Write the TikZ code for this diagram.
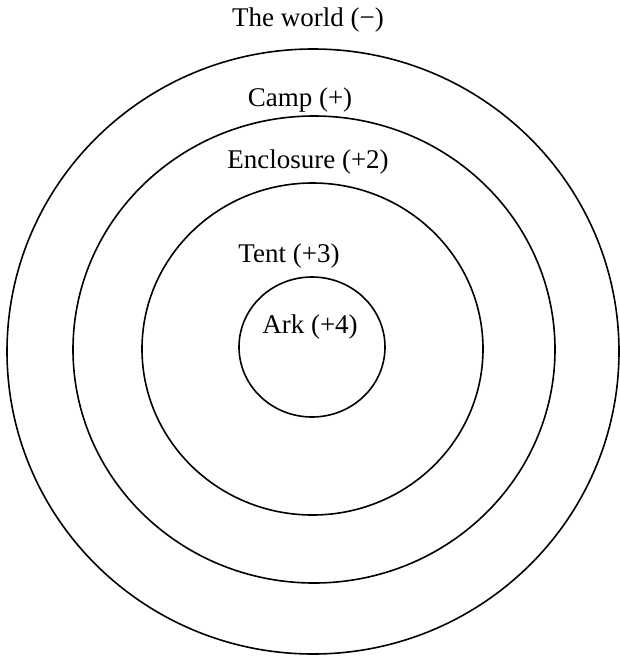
\documentclass[tikz,border=0pt]{standalone}
\usepackage{fontspec}
\setmainfont{Liberation Serif}
\usetikzlibrary{shapes.geometric}
\begin{document}
\begin{tikzpicture}[x=1pt,y=-1pt,
  ring/.style={ellipse,draw,line width=1.6pt,inner sep=0pt,outer sep=0pt},
  lbl/.style={anchor=base,inner sep=0pt,font=\fontsize{27}{30}\selectfont}]
\useasboundingbox (0,0) rectangle (620,657);
\node[ring,minimum width=612pt,minimum height=605pt] (camp) at (313,351.5) {};
\node[ring,minimum width=482pt,minimum height=467pt] (encl) at (314,349.5) {};
\node[ring,minimum width=341pt,minimum height=332pt] (tent) at (312.5,349) {};
\node[ring,minimum width=146pt,minimum height=140pt] (ark) at (312,347) {};
\node[lbl] (lworld) at (308,26) {The world (−)};
\node[lbl] (lcamp) at (300,106) {Camp (+)};
\node[lbl] (lencl) at (308,168) {Enclosure (+2)};
\node[lbl] (ltent) at (289,262) {Tent (+3)};
\node[lbl] (lark) at (310,333) {Ark (+4)};
\end{tikzpicture}
\end{document}
